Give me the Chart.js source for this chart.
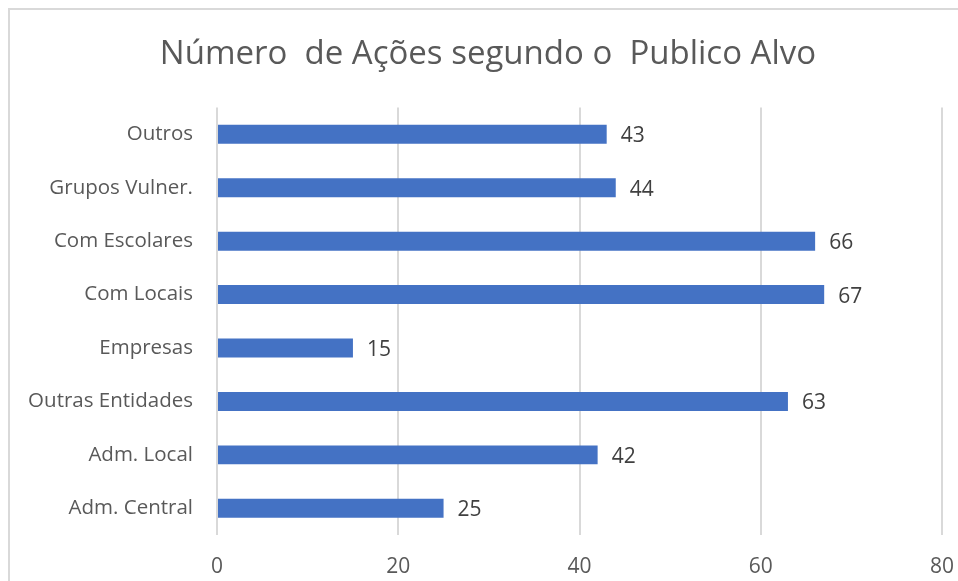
<!DOCTYPE html>
<html>
<head>
<meta charset="utf-8">
<script src="https://cdn.jsdelivr.net/npm/chart.js@4"></script>
<style>
  html, body { margin: 0; padding: 0; background: #fff; overflow: hidden; }
  .frame { position: absolute; left: 8px; top: 8px; width: 960px; height: 600px; border: 2px solid #d9d9d9; box-sizing: border-box; }
  .wrap { position: absolute; left: 0; top: 0; width: 958px; height: 581px; }
</style>
</head>
<body>
<div class="frame"></div>
<div class="wrap"><canvas id="chart"></canvas></div>
<script>
const categories = ['Outros', 'Grupos Vulner.', 'Com Escolares', 'Com Locais', 'Empresas', 'Outras Entidades', 'Adm. Local', 'Adm. Central'];
const acoes = [43, 44, 66, 67, 15, 63, 42, 25];
const xTicks = [0, 20, 40, 60, 80];

const FONT = "'Open Sans', 'Noto Sans', sans-serif";
const TEXT = '#595959';

// value labels at the end of each bar
const barValues = {
  id: 'barValues',
  afterDatasetsDraw(chart) {
    const { ctx } = chart;
    const meta = chart.getDatasetMeta(0);
    ctx.save();
    ctx.font = `21px ${FONT}`;
    ctx.fillStyle = '#404040';
    ctx.textAlign = 'left';
    ctx.textBaseline = 'middle';
    meta.data.forEach((bar, i) => {
      ctx.fillText(String(acoes[i]), bar.x + 14, bar.y + 2);
    });
    ctx.restore();
  },
};

new Chart(document.getElementById('chart'), {
  type: 'bar',
  data: {
    labels: categories,
    datasets: [{
      data: acoes,
      backgroundColor: '#4472c4',
      borderWidth: 0,
      barPercentage: 0.355,
      categoryPercentage: 1,
    }],
  },
  options: {
    indexAxis: 'y',
    responsive: true,
    maintainAspectRatio: false,
    animation: false,
    layout: { padding: { left: 18, right: 0, top: 0, bottom: 0 } },
    plugins: {
      legend: { display: false },
      tooltip: { enabled: false },
      title: {
        display: true,
        text: 'Número  de Ações segundo o  Publico Alvo',
        color: TEXT,
        font: { family: FONT, size: 33, weight: 'normal' },
        padding: { top: 35, bottom: 33 },
      },
    },
    scales: {
      x: {
        min: 0,
        max: 80,
        afterBuildTicks(scale) {
          scale.ticks = xTicks.map(v => ({ value: v }));
        },
        afterFit(scale) {
          scale.height = 46;
          scale.paddingLeft = 0;
          scale.paddingRight = 16;
        },
        grid: { color: '#d9d9d9', lineWidth: 2, drawTicks: false },
        border: { display: false },
        ticks: { color: TEXT, font: { family: FONT, size: 21 }, padding: 19 },
      },
      y: {
        afterFit(scale) {
          scale.width = 199;
          scale.paddingTop = 0;
          scale.paddingBottom = 0;
        },
        grid: { display: false, drawTicks: false },
        border: { display: false },
        ticks: { color: TEXT, font: { family: FONT, size: 20.5 }, padding: 24 },
      },
    },
  },
  plugins: [barValues],
});
</script>
</body>
</html>
